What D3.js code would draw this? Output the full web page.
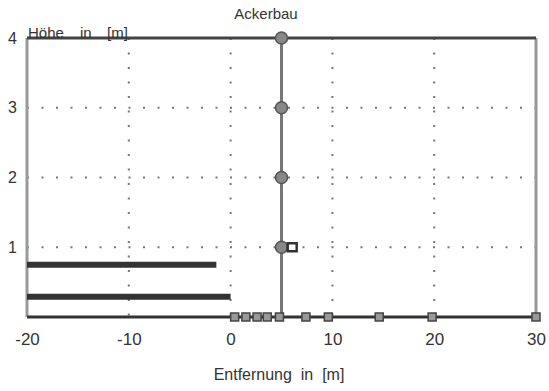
<!DOCTYPE html>
<html>
<head>
<meta charset="utf-8">
<script src="https://d3js.org/d3.v7.min.js"></script>
<style>
  html, body { margin: 0; padding: 0; background: #fff; overflow: hidden; }
  svg { display: block; }
  text { font-family: "Liberation Sans", Arial, sans-serif; fill: #333; }
</style>
</head>
<body>
<div id="chart"></div>
<script>
// chart values
const xTicks = [-20, -10, 0, 10, 20, 30];
const yTicks = [1, 2, 3, 4];
const xGrid = [-10, 0, 10, 20];
const yGrid = [1, 2, 3];
const mastX = 5;
const mastHeights = [1, 2, 3, 4];
const groundX = [0.4, 1.5, 2.6, 3.6, 4.8, 7.4, 9.6, 14.6, 19.8, 30];
const stripY = [0.75, 0.29];
const stripEnd = [-1.4, 0];
const sensorX = [6.05];
const sensorY = [1];
const yLabelParts = ['Höhe', 'in', '[m]'];

const width = 549, height = 391;
const margin = { top: 38, right: 13, bottom: 74, left: 27 };
const innerWidth = width - margin.left - margin.right;
const innerHeight = height - margin.top - margin.bottom;

const svg = d3.select('#chart')
    .append('svg')
    .attr('width', width)
    .attr('height', height)
    .append('g')
    .attr('transform', `translate(${margin.left},${margin.top})`);

const x = d3.scaleLinear().domain([-20, 30]).range([0, innerWidth]);
const y = d3.scaleLinear().domain([0, 4]).range([innerHeight, 0]);

// dotted grid
svg.selectAll('.vgrid')
    .data(xGrid)
    .join('line')
    .attr('x1', d => x(d)).attr('x2', d => x(d))
    .attr('y1', y(4)).attr('y2', y(0))
    .attr('stroke', '#777')
    .attr('stroke-width', 2)
    .attr('stroke-dasharray', '2,12.5');

svg.selectAll('.hgrid')
    .data(yGrid)
    .join('line')
    .attr('x1', x(-20)).attr('x2', x(30))
    .attr('y1', d => y(d)).attr('y2', d => y(d))
    .attr('stroke', '#777')
    .attr('stroke-width', 2)
    .attr('stroke-dasharray', '2,12.5');

// frame
svg.append('line')
    .attr('x1', x(-20)).attr('x2', x(-20)).attr('y1', y(4)).attr('y2', y(0))
    .attr('stroke', '#999').attr('stroke-width', 3);
svg.append('line')
    .attr('x1', x(30)).attr('x2', x(30)).attr('y1', y(4)).attr('y2', y(0))
    .attr('stroke', '#999').attr('stroke-width', 3);
svg.append('line')
    .attr('x1', x(-20)).attr('x2', x(30)).attr('y1', y(4)).attr('y2', y(4))
    .attr('stroke', '#444').attr('stroke-width', 3);
svg.append('line')
    .attr('x1', x(-20)).attr('x2', x(30)).attr('y1', y(0)).attr('y2', y(0))
    .attr('stroke', '#333').attr('stroke-width', 3);

// field strips
svg.selectAll('.strip')
    .data(stripY)
    .join('line')
    .attr('x1', x(-20))
    .attr('x2', (d, i) => x(stripEnd[i]))
    .attr('y1', d => y(d)).attr('y2', d => y(d))
    .attr('stroke', '#333')
    .attr('stroke-width', 6);

// mast
svg.append('line')
    .attr('x1', x(mastX)).attr('x2', x(mastX))
    .attr('y1', y(0)).attr('y2', y(4))
    .attr('stroke', '#777').attr('stroke-width', 3);

svg.selectAll('.mast')
    .data(mastHeights)
    .join('circle')
    .attr('cx', x(mastX))
    .attr('cy', d => y(d))
    .attr('r', 6)
    .attr('fill', '#888')
    .attr('stroke', '#555')
    .attr('stroke-width', 1.5);

// ground markers
svg.selectAll('.ground')
    .data(groundX)
    .join('rect')
    .attr('x', d => x(d) - 4)
    .attr('y', y(0) - 4)
    .attr('width', 8)
    .attr('height', 8)
    .attr('fill', '#999')
    .attr('stroke', '#444')
    .attr('stroke-width', 1.5);

// sensor box
svg.selectAll('.sensor')
    .data(sensorX)
    .join('rect')
    .attr('x', d => x(d) - 4.5)
    .attr('y', (d, i) => y(sensorY[i]) - 4)
    .attr('width', 9)
    .attr('height', 8)
    .attr('fill', '#fff')
    .attr('stroke', '#333')
    .attr('stroke-width', 2.5);

// axes
const xAxis = svg.append('g')
    .attr('transform', `translate(0,${innerHeight})`)
    .call(d3.axisBottom(x).tickValues(xTicks).tickSize(0).tickPadding(16).tickFormat(d => String(d)));
xAxis.select('.domain').remove();
xAxis.selectAll('text').attr('font-size', '17px').attr('fill', '#333')
    .style('font-family', '"Liberation Sans", Arial, sans-serif');

const yAxis = svg.append('g')
    .call(d3.axisLeft(y).tickValues(yTicks).tickSize(0).tickPadding(10).tickFormat(d => String(d)));
yAxis.select('.domain').remove();
yAxis.selectAll('text').attr('font-size', '16px').attr('fill', '#333')
    .style('font-family', '"Liberation Sans", Arial, sans-serif');

// labels
svg.append('text')
    .attr('x', 239)
    .attr('y', -19)
    .attr('text-anchor', 'middle')
    .attr('font-size', '15px')
    .text('Ackerbau');

const yLabelX = [1, 53, 80];
svg.selectAll('.ylabel')
    .data(yLabelParts)
    .join('text')
    .attr('x', (d, i) => yLabelX[i])
    .attr('y', 0)
    .attr('font-size', '15px')
    .text(d => d);

svg.append('text')
    .attr('x', 252)
    .attr('y', innerHeight + 63)
    .attr('text-anchor', 'middle')
    .attr('font-size', '16px')
    .style('white-space', 'pre')
    .text('Entfernung  in  [m]');
</script>
</body>
</html>
